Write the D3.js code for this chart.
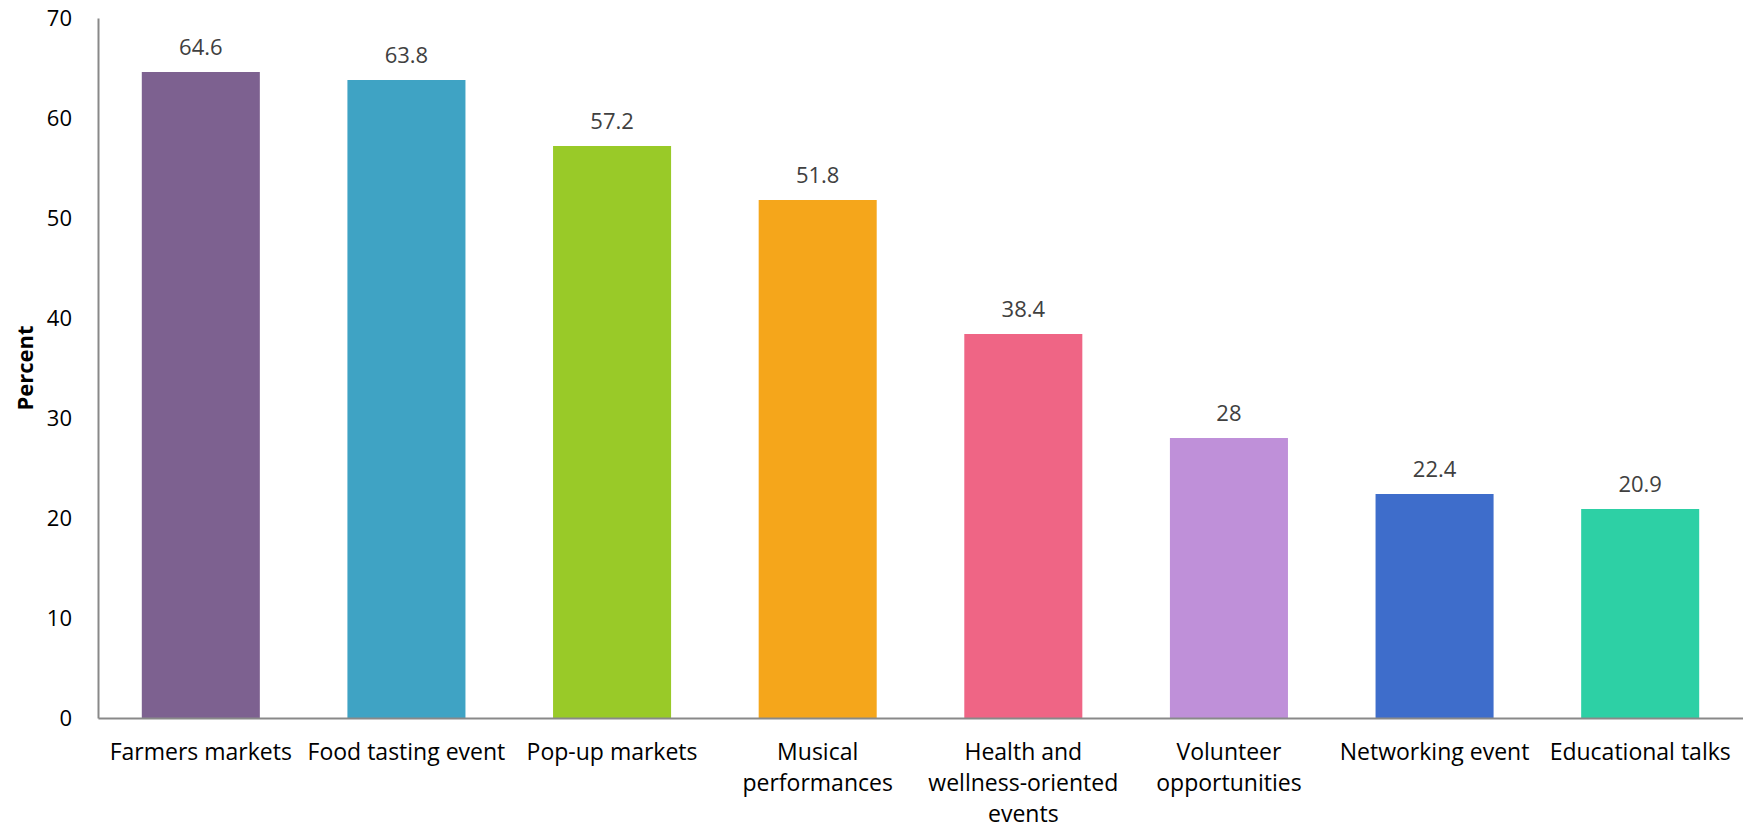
<!DOCTYPE html>
<html>
<head>
<meta charset="utf-8">
<script src="https://cdn.jsdelivr.net/npm/d3@7"></script>
<style>
  html, body { margin: 0; padding: 0; background: #fff; }
  svg { display: block; }
  text { font-family: "Open Sans", "Noto Sans", sans-serif; }
</style>
</head>
<body>
<svg id="chart" width="1743" height="830"></svg>
<script>
// Event types and share of respondents (%)
const categories = [
  "Farmers markets",
  "Food tasting event",
  "Pop-up markets",
  "Musical performances",
  "Health and wellness-oriented events",
  "Volunteer opportunities",
  "Networking event",
  "Educational talks"
];
// Line breaks used for the category labels under the axis
const categoryLines = [
  ["Farmers markets"],
  ["Food tasting event"],
  ["Pop-up markets"],
  ["Musical", "performances"],
  ["Health and", "wellness-oriented", "events"],
  ["Volunteer", "opportunities"],
  ["Networking event"],
  ["Educational talks"]
];
const values = [64.6, 63.8, 57.2, 51.8, 38.4, 28, 22.4, 20.9];
const barColors = ["#7D6190", "#3FA3C4", "#99CA28", "#F5A61B", "#EF6585", "#BF90D9", "#3E6DCB", "#2DD0A5"];
const yTicks = [0, 10, 20, 30, 40, 50, 60, 70];
const yTitle = "Percent";

const svg = d3.select("#chart");
const W = 1743, H = 830;
const margin = { top: 18, right: 0, bottom: 112, left: 98 };
const font = "'Open Sans', 'Noto Sans', sans-serif";

const x = d3.scaleBand()
  .domain(categories)
  .range([margin.left, W - margin.right])
  .paddingInner(0.426)
  .paddingOuter(0.213);

const y = d3.scaleLinear()
  .domain([0, 70])
  .range([H - margin.bottom, margin.top]);

// Bars
svg.append("g")
  .selectAll("rect")
  .data(values)
  .join("rect")
  .attr("x", (d, i) => x(categories[i]))
  .attr("y", d => y(d))
  .attr("width", x.bandwidth())
  .attr("height", d => y(0) - y(d))
  .attr("fill", (d, i) => barColors[i]);

// Value labels above bars
svg.append("g")
  .selectAll("text")
  .data(values)
  .join("text")
  .attr("x", (d, i) => x(categories[i]) + x.bandwidth() / 2)
  .attr("y", d => y(d) - 17)
  .attr("text-anchor", "middle")
  .attr("font-size", 22)
  .attr("fill", "#404040")
  .text(d => d);

// Y axis
const yAxis = d3.axisLeft(y).tickValues(yTicks).tickSize(0).tickPadding(26);
const gy = svg.append("g")
  .attr("transform", `translate(${margin.left},0)`)
  .call(yAxis);
gy.select(".domain").attr("stroke", "#898989").attr("stroke-width", 2);
gy.selectAll(".tick text")
  .attr("font-size", 22)
  .attr("fill", "#000")
  .attr("font-family", font);

// X axis
const xAxis = d3.axisBottom(x).tickSize(0).tickPadding(0).tickFormat("");
const gx = svg.append("g")
  .attr("transform", `translate(0,${y(0)})`)
  .call(xAxis);
gx.select(".domain").attr("stroke", "#898989").attr("stroke-width", 2);

// Category labels
const lineH = 31;
gx.selectAll(".tick").each(function (cat) {
  const g = d3.select(this);
  g.selectAll("text").remove();
  const lines = categoryLines[categories.indexOf(cat)];
  g.append("text")
    .attr("text-anchor", "middle")
    .attr("font-size", 23)
    .attr("font-family", font)
    .attr("fill", "#000")
    .attr("y", 42)
    .selectAll("tspan")
    .data(lines)
    .join("tspan")
    .attr("x", 0)
    .attr("dy", (d, i) => i === 0 ? 0 : lineH)
    .text(d => d);
});

// Y axis title
svg.append("text")
  .attr("transform", `translate(33,${(y(0) + y(70)) / 2}) rotate(-90)`)
  .attr("text-anchor", "middle")
  .attr("font-size", 22)
  .attr("font-weight", "bold")
  .attr("font-family", font)
  .attr("fill", "#000")
  .text(yTitle);
</script>
</body>
</html>
